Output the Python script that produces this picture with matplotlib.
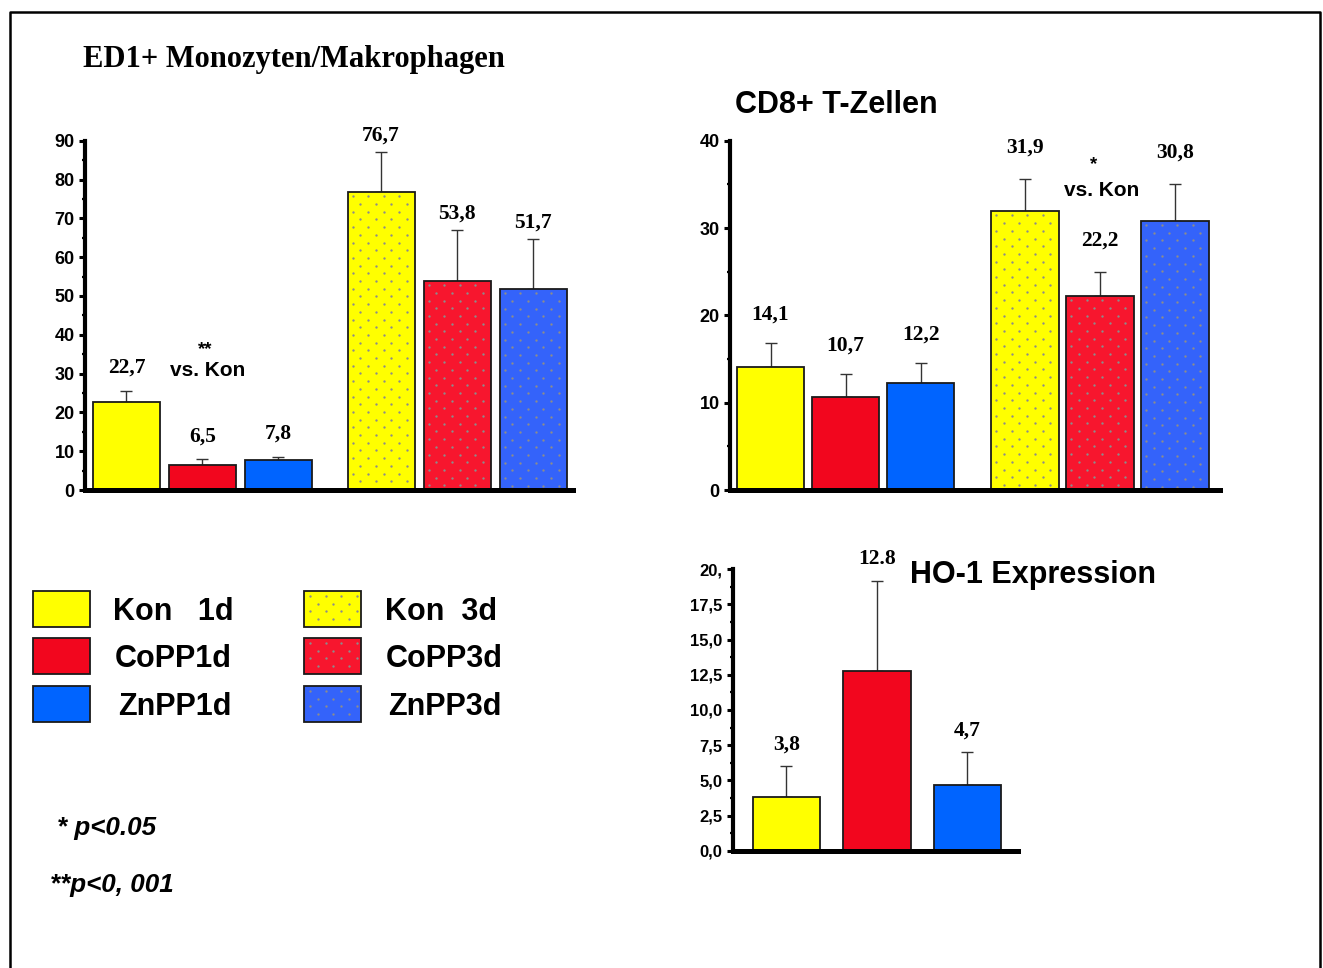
import matplotlib
matplotlib.use("Agg")
import matplotlib.pyplot as plt
from matplotlib.patches import Rectangle
from matplotlib.lines import Line2D
import numpy as np

# ---------------- data ----------------
groups = ["Kon 1d", "CoPP1d", "ZnPP1d", "Kon 3d", "CoPP3d", "ZnPP3d"]
ed1_1d = [22.7, 6.5, 7.8]
ed1_1d_err = [2.8, 1.4, 0.8]
ed1_3d = [76.7, 53.8, 51.7]
ed1_3d_err = [10.5, 13.2, 13.0]
cd8_1d = [14.1, 10.7, 12.2]
cd8_1d_err = [2.7, 2.6, 2.3]
cd8_3d = [31.9, 22.2, 30.8]
cd8_3d_err = [3.7, 2.8, 4.2]
ho1 = [3.8, 12.8, 4.7]
ho1_err = [2.2, 6.4, 2.3]
ho1_labels = ["3,8", "12.8", "4,7"]
ed1_ticks = [0, 10, 20, 30, 40, 50, 60, 70, 80, 90]
cd8_ticks = [0, 10, 20, 30, 40]
ho1_ticks = [0, 2.5, 5, 7.5, 10, 12.5, 15, 17.5, 20]
ho1_ticklabels = ["0,0", "2,5", "5,0", "7,5", "10,0", "12,5", "15,0", "17,5", "20,"]

col_1d = ["#FFFF00", "#F2061E", "#0064FF"]
col_3d = ["#FFFF00", "#F7162E", "#3463FA"]

W, H = 1323, 968
SANS = "Liberation Sans"
SERIF = "Liberation Serif"

fig = plt.figure(figsize=(W / 100, H / 100), dpi=100)


def rect(l, t, r, b):
    return [l / W, 1 - b / H, (r - l) / W, (b - t) / H]


def fx(x):
    return x / W


def fy(y):
    return 1 - y / H


def add_dots_data(ax, x0, x1, y0, y1):
    # dots in pixel space inside a bar, converted back to data coordinates
    tr = ax.transData
    (px0, py0), (px1, py1) = tr.transform([(x0, y0), (x1, y1)])
    xs, ys = [], []
    row = 0
    yy = py1 - 4
    while yy > py0 + 2:
        off = 7.75 if row % 2 else 0
        xx = px0 + 5 + off
        while xx < px1 - 3:
            xs.append(xx)
            ys.append(yy)
            xx += 15.5
        yy -= 7.7
        row += 1
    if xs:
        pts = tr.inverted().transform(np.column_stack([xs, ys]))
        ax.plot(pts[:, 0], pts[:, 1], "o", ms=1.7, mew=0, color="#8C8C8C",
                zorder=3, clip_on=False)


def style_axis(ax, ylim, ticks, ticklabels, fs):
    ax.set_ylim(*ylim)
    for s in ["top", "right"]:
        ax.spines[s].set_visible(False)
    ax.spines["left"].set_linewidth(3.0)
    ax.spines["bottom"].set_linewidth(3.6)
    ax.spines["bottom"].set_zorder(5)
    ax.set_xticks([])
    ax.set_yticks(ticks)
    ax.set_yticklabels(ticklabels, fontfamily=SANS, fontweight="bold", fontsize=fs)
    ax.set_yticks([(a + b) / 2 for a, b in zip(ticks[:-1], ticks[1:])], minor=True)
    ax.tick_params(axis="y", which="major", length=4.5, width=2.2, pad=3, direction="out")
    ax.tick_params(axis="y", which="minor", length=2.5, width=1.6, direction="out")
    ax.patch.set_alpha(0)


def draw_bars(ax, xs, vals, errs, colors, dotted, labels, off_pt, width):
    bars = ax.bar(xs, vals, width=width, color=colors, edgecolor="#1a1a1a",
                  linewidth=1.3, zorder=2)
    ax.errorbar(xs, vals, yerr=[np.zeros(len(vals)), errs], fmt="none",
                ecolor="#333333", elinewidth=1.0, capsize=4, capthick=1.0, zorder=1.5)
    if dotted:
        for b in bars:
            add_dots_data(ax, b.get_x(), b.get_x() + b.get_width(), 0, b.get_height())
    for x, v, e, lab in zip(xs, vals, errs, labels):
        ax.annotate(lab, (x, v + e), xytext=(0, off_pt), textcoords="offset points",
                    ha="center", va="baseline", fontfamily=SERIF, fontweight="bold",
                    fontsize=15.5, annotation_clip=False)


def fmt(v):
    return f"{v:.1f}".replace(".", ",")


# ---------- Chart 1: ED1 ----------
ax1 = fig.add_axes(rect(85, 140.7, 573, 490))
ax1.set_xlim(-0.546, 5.875)
style_axis(ax1, (0, 90), ed1_ticks, [str(t) for t in ed1_ticks], 13)
pos1a = [0, 1, 2]
pos1b = [3.35, 4.35, 5.35]
draw_bars(ax1, pos1a, ed1_1d, ed1_1d_err, col_1d, False, [fmt(v) for v in ed1_1d], 13, 0.88)
draw_bars(ax1, pos1b, ed1_3d, ed1_3d_err, col_3d, True, [fmt(v) for v in ed1_3d], 8, 0.88)

# ---------- Chart 2: CD8 ----------
ax2 = fig.add_axes(rect(730, 140.7, 1220, 490))
ax2.set_xlim(-0.54, 5.99)
style_axis(ax2, (0, 40), cd8_ticks, [str(t) for t in cd8_ticks], 13)
pos2a = [0, 1, 2]
pos2b = [3.39, 4.39, 5.39]
draw_bars(ax2, pos2a, cd8_1d, cd8_1d_err, col_1d, False, [fmt(v) for v in cd8_1d], 17, 0.9)
draw_bars(ax2, pos2b, cd8_3d, cd8_3d_err, col_3d, True, [fmt(v) for v in cd8_3d], 19, 0.9)

# ---------- Chart 3: HO-1 ----------
ax3 = fig.add_axes(rect(733, 569.3, 1018, 850.7))
ax3.set_xlim(-0.59, 2.56)
style_axis(ax3, (0, 20), ho1_ticks, ho1_ticklabels, 12)
draw_bars(ax3, [0, 1, 2], ho1, ho1_err, col_1d, False, ho1_labels, 12, 0.746)

# ---------- titles & annotations ----------
fig.text(fx(83), fy(67), "ED1+ Monozyten/Makrophagen", fontfamily=SERIF,
         fontweight="bold", fontsize=22, ha="left", va="baseline")
fig.text(fx(735), fy(113), "CD8+ T-Zellen", fontfamily=SANS,
         fontweight="bold", fontsize=22, ha="left", va="baseline")
fig.text(fx(910), fy(583), "HO-1 Expression", fontfamily=SANS,
         fontweight="bold", fontsize=22, ha="left", va="baseline")

fig.text(fx(205), fy(350), "**", fontfamily=SANS, fontweight="bold", fontsize=13.5,
         ha="center", va="center")
fig.text(fx(207.5), fy(376.5), "vs. Kon", fontfamily=SANS, fontweight="bold",
         fontsize=15, ha="center", va="baseline")
fig.text(fx(1094), fy(165), "*", fontfamily=SANS, fontweight="bold", fontsize=13.5,
         ha="center", va="center")
fig.text(fx(1102), fy(196), "vs. Kon", fontfamily=SANS, fontweight="bold",
         fontsize=15, ha="center", va="baseline")

# ---------- legend ----------
leg_rows = [591, 638, 686]
leg_text_1d = ["Kon   1d", "CoPP1d", "ZnPP1d"]
leg_text_3d = ["Kon  3d", "CoPP3d", "ZnPP3d"]
leg_tx_1d = [113, 115, 118]
leg_tx_3d = [385, 386, 388]
for i, top in enumerate(leg_rows):
    for (lx, cols, dotted, texts, txs) in [
        (33, col_1d, False, leg_text_1d, leg_tx_1d),
        (304, col_3d, True, leg_text_3d, leg_tx_3d),
    ]:
        r = Rectangle((fx(lx), fy(top + 36)), 57 / W, 36 / H, transform=fig.transFigure,
                      facecolor=cols[i], edgecolor="#1a1a1a", linewidth=1.3)
        fig.add_artist(r)
        if dotted:
            xs, ys = [], []
            row = 0
            yy = top + 5
            while yy < top + 34:
                off = 7.75 if row % 2 else 0
                xx = lx + 6 + off
                while xx < lx + 55:
                    xs.append(fx(xx))
                    ys.append(fy(yy))
                    xx += 15.5
                yy += 7.7
                row += 1
            fig.add_artist(Line2D(xs, ys, linestyle="none", marker="o", ms=1.7, mew=0,
                                  color="#8C8C8C", transform=fig.transFigure))
        fig.text(fx(txs[i]), fy(top + 29), texts[i], fontfamily=SANS, fontweight="bold",
                 fontsize=22, ha="left", va="baseline")

# ---------- p-values ----------
fig.text(fx(57), fy(835), "* p<0.05", fontfamily=SANS, fontweight="bold",
         fontstyle="italic", fontsize=18.7, ha="left", va="baseline")
fig.text(fx(50), fy(892), "**p<0, 001", fontfamily=SANS, fontweight="bold",
         fontstyle="italic", fontsize=18.7, ha="left", va="baseline")

# ---------- border ----------
fig.add_artist(Line2D([fx(9.5), fx(9.5), fx(1320), fx(1320)],
                      [fy(H + 5), fy(11.5), fy(11.5), fy(H + 5)],
                      color="black", linewidth=1.8, transform=fig.transFigure))

fig.savefig("out.png", dpi=100)
